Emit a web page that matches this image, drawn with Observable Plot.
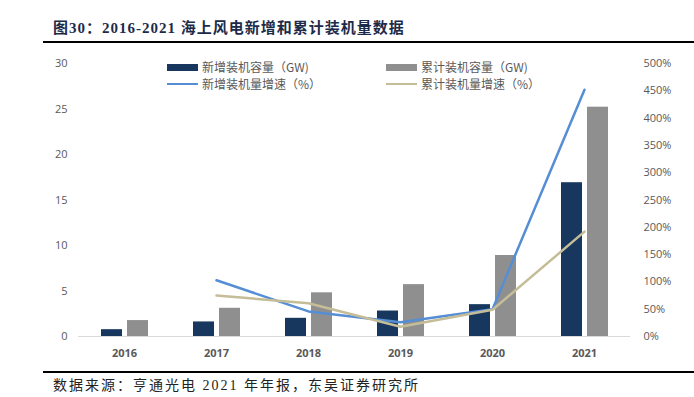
<!DOCTYPE html>
<html>
<head>
<meta charset="utf-8">
<script src="https://cdn.jsdelivr.net/npm/d3@7"></script>
<script src="https://cdn.jsdelivr.net/npm/@observablehq/plot@0.6"></script>
<style>
  html, body { margin: 0; padding: 0; background: #fff; }
  #page { position: relative; width: 694px; height: 397px; overflow: hidden; }
  #title { position: absolute; left: 43px; top: 0; width: 651px; height: 41px; border-bottom: 2px solid #000; }
  #title span { position: absolute; left: 10px; top: 18px; font-family: "Liberation Serif", "Noto Sans CJK SC", serif; font-weight: bold; font-size: 15px; line-height: 20px; color: #1c2b4a; letter-spacing: 1px; white-space: nowrap; }
  #chart { position: absolute; left: 0; top: 44px; }
  #caption { position: absolute; left: 43px; top: 371px; width: 651px; border-top: 2px solid #000; }
  #caption span { position: absolute; left: 10px; top: 4px; font-family: "Liberation Serif", "Noto Sans CJK SC", serif; font-size: 14px; line-height: 18px; color: #222; letter-spacing: 2px; white-space: nowrap; }
  .lg { position: absolute; font-family: "Noto Sans CJK SC", sans-serif; font-size: 12px; line-height: 16px; color: #595959; white-space: nowrap; }
  .sw { position: absolute; }
</style>
</head>
<body>
<div id="page">
  <div id="title"><span>图30：2016-2021 海上风电新增和累计装机量数据</span></div>
  <div id="chart"></div>
  <div id="legend"></div>
  <div id="caption"><span>数据来源：亨通光电 2021 年年报，东吴证券研究所</span></div>
</div>
<script>
const years = ["2016", "2017", "2018", "2019", "2020", "2021"];
const newCapacity = [0.75, 1.6, 2.0, 2.8, 3.5, 16.9];
const cumCapacity = [1.75, 3.1, 4.8, 5.7, 8.9, 25.2];
const newGrowth = [null, 103, 46, 26, 50, 452];
const cumGrowth = [null, 75, 61, 18, 49, 192];
const leftTicks = [0, 5, 10, 15, 20, 25, 30];
const rightTicks = [0, 50, 100, 150, 200, 250, 300, 350, 400, 450, 500];

const seriesNames = ["新增装机容量（GW)", "累计装机容量（GW)", "新增装机量增速（%）", "累计装机量增速（%）"];
const colors = ["#17375e", "#8f8f8f", "#558ed5", "#c4bd97"];

const k = 30 / 500; // percent -> left-axis units
const rows = years.map((y, i) => ({
  year: y, nc: newCapacity[i], cc: cumCapacity[i],
  ng: newGrowth[i] == null ? null : newGrowth[i] * k,
  cg: cumGrowth[i] == null ? null : cumGrowth[i] * k
}));
const lineRows = rows.filter(d => d.ng != null);

const chart = Plot.plot({
  width: 694,
  height: 326,
  marginLeft: 78,
  marginRight: 64,
  marginTop: 19,
  marginBottom: 34,
  style: { fontFamily: "'Open Sans', sans-serif", fontSize: "11px", color: "#595959", background: "#fff" },
  x: { type: "band", domain: years, padding: 0 },
  y: { domain: [0, 30] },
  marks: [
    Plot.ruleY([0], { stroke: "#d9d9d9", strokeWidth: 1 }),
    Plot.barY(rows, { x: "year", y: "nc", fill: colors[0], insetLeft: 23, insetRight: 48 }),
    Plot.barY(rows, { x: "year", y: "cc", fill: colors[1], insetLeft: 49, insetRight: 22 }),
    Plot.line(lineRows, { x: "year", y: "ng", stroke: colors[2], strokeWidth: 2.5 }),
    Plot.line(lineRows, { x: "year", y: "cg", stroke: colors[3], strokeWidth: 2.5 }),
    Plot.axisX({ tickSize: 0, tickPadding: 13, fontWeight: "bold", label: null }),
    Plot.axisY({ anchor: "left", ticks: leftTicks, tickSize: 0, tickPadding: 11, label: null }),
    Plot.axisY({ anchor: "right", ticks: rightTicks.map(v => v * k), tickFormat: d => Math.round(d / k) + "%", tickSize: 0, tickPadding: 13, label: null })
  ]
});
document.getElementById("chart").appendChild(chart);

// legend
const legendItems = [
  { name: seriesNames[0], color: colors[0], kind: "bar", x: 167, y: 67 },
  { name: seriesNames[1], color: colors[1], kind: "bar", x: 386, y: 67 },
  { name: seriesNames[2], color: colors[2], kind: "line", x: 167, y: 84 },
  { name: seriesNames[3], color: colors[3], kind: "line", x: 386, y: 84 }
];
const lg = document.getElementById("legend");
legendItems.forEach(it => {
  const sw = document.createElement("div");
  sw.className = "sw";
  const h = it.kind === "bar" ? 7 : 2.5;
  sw.style.left = it.x + "px";
  sw.style.top = (it.y - h / 2) + "px";
  sw.style.width = "31px";
  sw.style.height = h + "px";
  sw.style.background = it.color;
  lg.appendChild(sw);
  const t = document.createElement("div");
  t.className = "lg";
  t.style.left = (it.x + 35) + "px";
  t.style.top = (it.y - 8) + "px";
  t.textContent = it.name;
  lg.appendChild(t);
});
</script>
</body>
</html>
